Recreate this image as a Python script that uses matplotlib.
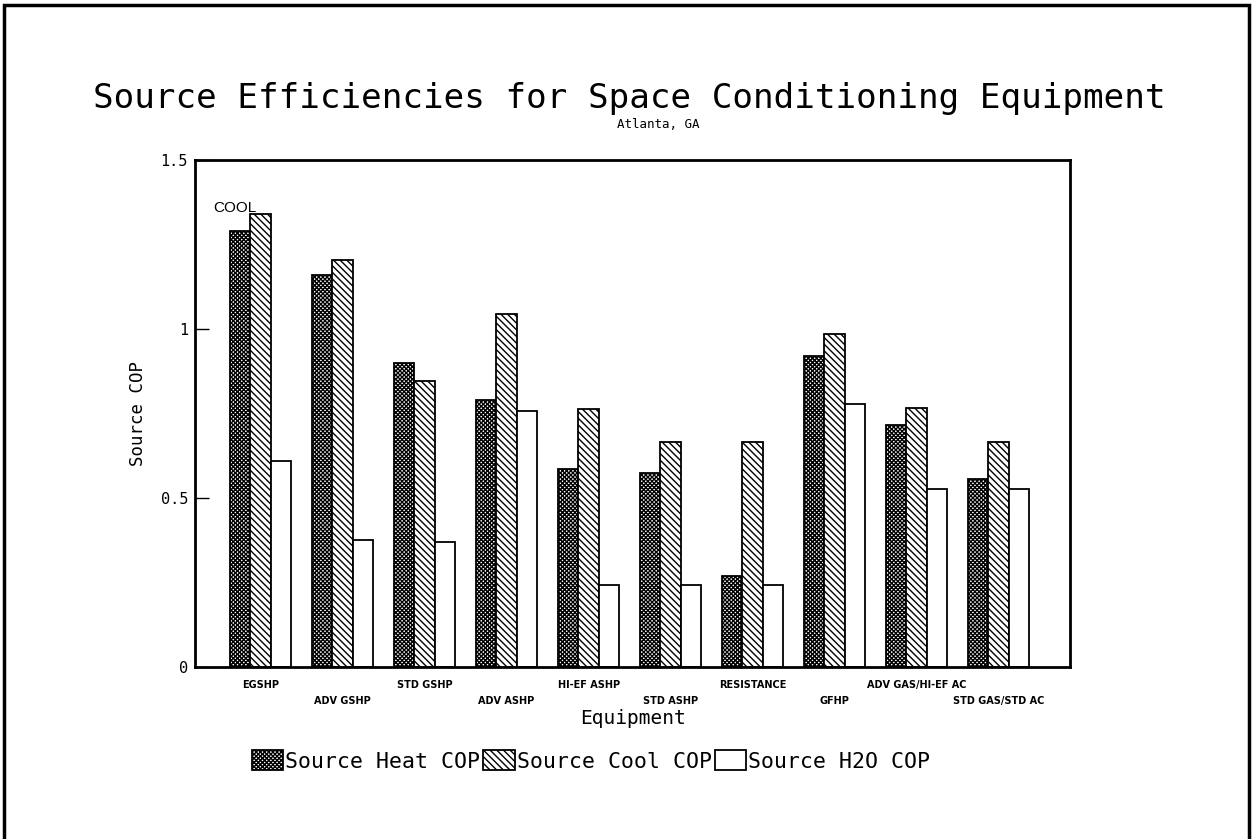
import matplotlib
matplotlib.use("Agg")
import matplotlib.pyplot as plt
from matplotlib.patches import Patch, Rectangle
import numpy as np

categories = ["EGSHP", "ADV GSHP", "STD GSHP", "ADV ASHP", "HI-EF ASHP",
              "STD ASHP", "RESISTANCE", "GFHP", "ADV GAS/HI-EF AC", "STD GAS/STD AC"]
heat_cop = [1.29, 1.16, 0.90, 0.79, 0.585, 0.575, 0.27, 0.92, 0.715, 0.555]
cool_cop = [1.34, 1.205, 0.845, 1.045, 0.762, 0.665, 0.665, 0.985, 0.767, 0.665]
h2o_cop = [0.61, 0.375, 0.37, 0.757, 0.244, 0.244, 0.242, 0.778, 0.528, 0.528]
series_names = ["Source Heat COP", "Source Cool COP", "Source H2O COP"]
y_ticks = [0, 0.5, 1, 1.5]
y_ticklabels = ["0", "0.5", "1", "1.5"]

MONO = 'DejaVu Sans Mono'
plt.rcParams['hatch.linewidth'] = 1.0
plt.rcParams['hatch.color'] = 'black'

fig = plt.figure(figsize=(12.53, 8.39), dpi=100)
ax = fig.add_axes([0.1556, 0.205, 0.6984, 0.6043])

x = np.arange(len(categories))
w = 0.25
styles = [dict(facecolor='white', hatch='xxxxxxxx'),
          dict(facecolor='white', hatch='\\\\\\\\\\'),
          dict(facecolor='white', hatch='')]
for k, vals in enumerate([heat_cop, cool_cop, h2o_cop]):
    ax.bar(x + (k - 1) * w, vals, width=w, edgecolor='black', linewidth=1.3,
           label=series_names[k], **styles[k])

ax.set_xlim(-0.80, 9.87)
ax.set_ylim(0, 1.5)
ax.set_yticks(y_ticks)
ax.set_yticklabels(y_ticklabels, fontsize=11, family=MONO)
ax.tick_params(axis='y', direction='in', length=10, width=1, pad=5)
ax.set_xticks(x)
ax.set_xticklabels(categories, fontsize=7, fontweight='bold')
ax.tick_params(axis='x', length=0)
for i, t in enumerate(ax.xaxis.get_major_ticks()):
    t.set_pad(9 if i % 2 == 0 else 21)
for s in ax.spines.values():
    s.set_linewidth(2)

ax.set_ylabel("Source COP", fontsize=12.5, family=MONO, labelpad=10)
ax.set_xlabel("Equipment", fontsize=14, family=MONO, labelpad=2)

ax.text(-0.575, 1.337, "COOL", fontsize=11, family='Liberation Sans',
        ha='left', va='bottom')

fig.text(0.502, 0.883, "Source Efficiencies for Space Conditioning Equipment",
         fontsize=24.7, family=MONO, ha='center', va='center')
fig.text(0.525, 0.852, "Atlanta, GA", fontsize=9, family=MONO,
         ha='center', va='center')

handles = [Patch(facecolor='white', edgecolor='black', hatch=styles[k]['hatch'],
                 linewidth=1.3, label=series_names[k]) for k in range(3)]
fig.legend(handles=handles, loc='center left', bbox_to_anchor=(0.201, 0.093),
           ncol=3, frameon=False, prop={'family': MONO, 'size': 15.5},
           handlelength=1.45, handleheight=1.05, handletextpad=0.1,
           columnspacing=0.15, borderpad=0, borderaxespad=0)

fig.add_artist(Rectangle((0.003, -0.05), 0.994, 1.044, transform=fig.transFigure,
                         fill=False, edgecolor='black', linewidth=2.5))

fig.savefig("out.png", dpi=100)
